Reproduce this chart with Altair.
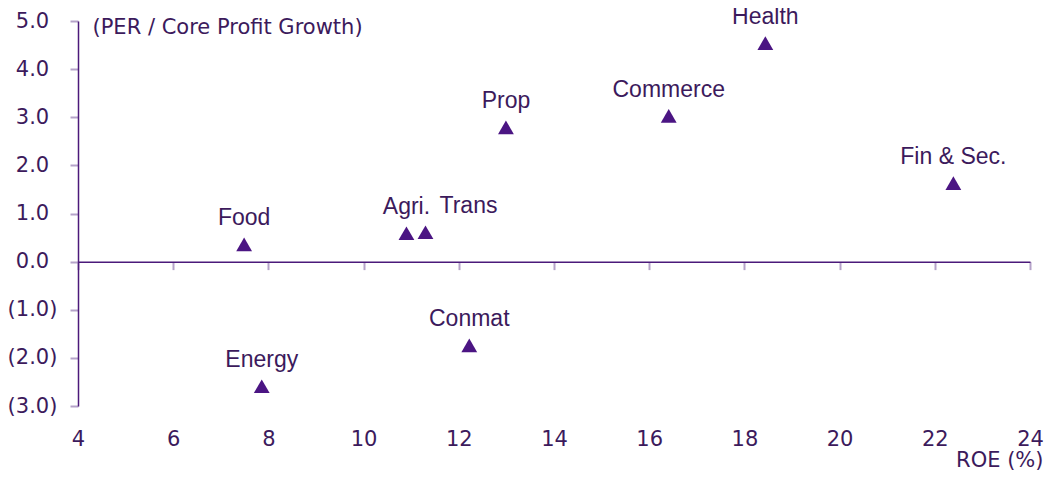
import altair as alt
import pandas as pd

sectors = ["Food", "Energy", "Agri.", "Trans", "Prop", "Commerce", "Health", "Fin & Sec.", "Conmat"]
roe = [7.49, 7.86, 10.90, 11.30, 12.99, 16.41, 18.44, 22.39, 12.22]
per_growth = [0.36, -2.59, 0.59, 0.61, 2.79, 3.03, 4.54, 1.63, -1.74]
label_dx = [0, 0, 0, 43, 0, 0, 0, 0, 0]

x_ticks = [4, 6, 8, 10, 12, 14, 16, 18, 20, 22, 24]
y_ticks = [-3, -2, -1, 0, 1, 2, 3, 4, 5]

df = pd.DataFrame({"sector": sectors, "roe": roe, "per": per_growth, "dx": label_dx})

W, H = 952, 385
ZERO_POS = H * 5 / 8
BELOW = H - ZERO_POS
TEXT = "#3c1a5c"
MARK = "#4b1583"
LINE = "#4b1a7a"
TICK = "#b5a3c9"
AXFONT = "DejaVu Sans"
AXSIZE = 21

xscale = alt.Scale(domain=[4, 24], nice=False, zero=False)
yscale = alt.Scale(domain=[-3, 5], nice=False, zero=False)

y_axis = alt.Axis(
    values=y_ticks,
    labelExpr="datum.value < 0 ? '(' + format(-datum.value, '.1f') + ')' : format(datum.value, '.1f')",
    grid=False,
    domain=True, domainColor=LINE, domainWidth=1.5,
    ticks=True, tickColor=TICK, tickSize=8, tickWidth=2,
    labelFont=AXFONT, labelFontSize=AXSIZE, labelColor=TEXT,
    labelAlign="center", labelBaseline="middle", labelPadding=38,
    title="(PER / Core Profit Growth)", titleAngle=0, titleAlign="left",
    titleBaseline="middle", titleX=14, titleY=6,
    titleFont=AXFONT, titleFontSize=AXSIZE, titleFontWeight="normal", titleColor=TEXT,
)

x_axis = alt.Axis(
    orient="bottom", values=x_ticks, grid=False,
    offset=-BELOW,
    domain=True, domainColor=LINE, domainWidth=1.5,
    ticks=True, tickColor=TICK, tickSize=8, tickWidth=2,
    labelFont=AXFONT, labelFontSize=AXSIZE, labelColor=TEXT,
    labelPadding=BELOW + 14, labelFlush=False,
    title="ROE (%)", titleAlign="right", titleAnchor="end", titleBaseline="middle",
    titleX=W + 13, titleY=BELOW + 54, titleFont=AXFONT, titleFontSize=AXSIZE,
    titleFontWeight="normal", titleColor=TEXT,
)

X = alt.X("roe:Q", scale=xscale, axis=x_axis)
Y = alt.Y("per:Q", scale=yscale, axis=y_axis)

base = alt.Chart(df).encode(x=X, y=Y)

points = base.mark_point(
    shape="triangle-up", filled=True, size=250, color=MARK, opacity=1
)

labels_main = base.transform_filter("datum.dx == 0").mark_text(
    font="Liberation Sans", fontSize=23, color=TEXT, dy=-26, baseline="middle"
).encode(text="sector:N")

labels_shift = base.transform_filter("datum.dx != 0").mark_text(
    font="Liberation Sans", fontSize=23, color=TEXT, dy=-26, dx=43, baseline="middle"
).encode(text="sector:N")

chart = alt.layer(points, labels_main, labels_shift).properties(
    width=W, height=H,
    autosize=alt.AutoSizeParams(type="none"),
    padding={"left": 70, "top": 13, "right": 14, "bottom": 65},
    background="white",
).configure_view(stroke=None)

chart.save("out.html", embed_options={"renderer": "svg", "actions": False})
